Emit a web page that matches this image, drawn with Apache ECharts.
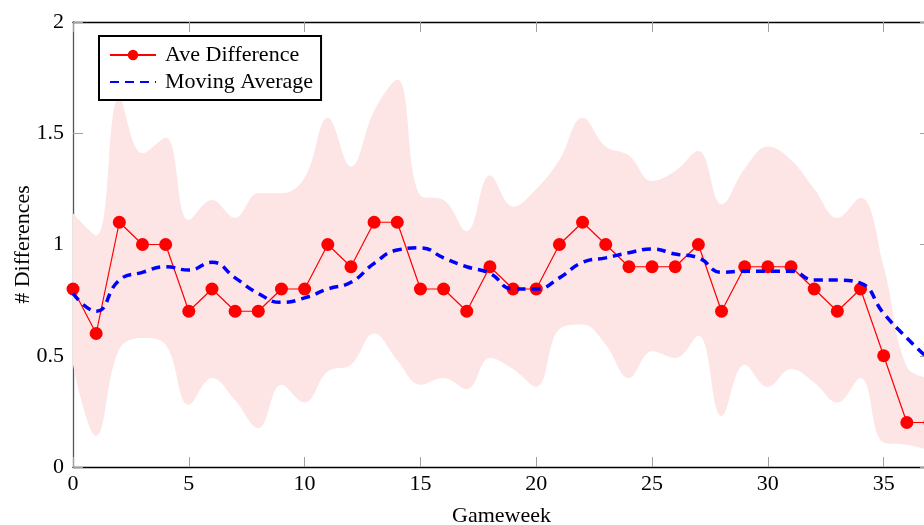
<!DOCTYPE html>
<html>
<head>
<meta charset="utf-8">
<script src="https://cdn.jsdelivr.net/npm/echarts@6/dist/echarts.min.js"></script>
<style>
  html, body { margin: 0; padding: 0; background: #ffffff; }
  #chart { width: 924px; height: 525px; }
</style>
</head>
<body>
<div id="chart"></div>
<script>
// Gameweeks 0..37
const gameweeks = [0, 1, 2, 3, 4, 5, 6, 7, 8, 9, 10, 11, 12, 13, 14, 15, 16, 17, 18, 19,
  20, 21, 22, 23, 24, 25, 26, 27, 28, 29, 30, 31, 32, 33, 34, 35, 36, 37];

// Average number of differences per gameweek
const aveDifference = [0.8, 0.6, 1.1, 1.0, 1.0, 0.7, 0.8, 0.7, 0.7, 0.8, 0.8, 1.0, 0.9, 1.1, 1.1,
  0.8, 0.8, 0.7, 0.9, 0.8, 0.8, 1.0, 1.1, 1.0, 0.9, 0.9, 0.9, 1.0, 0.7, 0.9, 0.9, 0.9, 0.8, 0.7,
  0.8, 0.5, 0.2, 0.2];

// Smoothed moving average
const movingAverage = [0.78, 0.70, 0.84, 0.875, 0.90, 0.885, 0.92, 0.85, 0.78, 0.74, 0.76, 0.80,
  0.83, 0.915, 0.975, 0.985, 0.94, 0.90, 0.87, 0.80, 0.80, 0.85, 0.92, 0.94, 0.963, 0.98, 0.957,
  0.94, 0.875, 0.88, 0.88, 0.88, 0.84, 0.84, 0.826, 0.69, 0.58, 0.48];

// Spread band around the average (upper / lower bounds)
const bandUpper = [1.14, 1.04, 1.66, 1.41, 1.48, 1.11, 1.20, 1.12, 1.23, 1.23, 1.30, 1.57, 1.35,
  1.60, 1.74, 1.22, 1.20, 1.06, 1.31, 1.17, 1.25, 1.38, 1.57, 1.44, 1.40, 1.285, 1.33, 1.42, 1.18,
  1.34, 1.44, 1.38, 1.25, 1.12, 1.21, 0.90, 0.45, 0.40];
const bandLower = [0.46, 0.14, 0.53, 0.58, 0.55, 0.28, 0.40, 0.30, 0.175, 0.37, 0.29, 0.43, 0.46,
  0.60, 0.48, 0.37, 0.40, 0.35, 0.49, 0.44, 0.36, 0.62, 0.64, 0.55, 0.40, 0.52, 0.49, 0.59, 0.23,
  0.46, 0.36, 0.44, 0.38, 0.29, 0.40, 0.11, 0.10, 0.075];

const FONT = '"Liberation Serif", "DejaVu Serif", serif';

const tickStyle = { show: true, inside: true, length: 10, lineStyle: { color: '#a0a0a0', width: 1 } };
const catTick = Object.assign({ interval: 4, alignWithLabel: true }, tickStyle);
const lineBlack = { show: true, onZero: false, lineStyle: { color: '#000', width: 1.3 } };

const chart = echarts.init(document.getElementById('chart'), null, { renderer: 'canvas' });

chart.setOption({
  animation: false,
  backgroundColor: '#ffffff',
  grid: { left: 73, right: -6, top: 22, bottom: 58, containLabel: false, outerBoundsMode: 'none' },
  legend: {
    data: [
      { name: 'Ave Difference' },
      // dashed line only, no marker
      { name: 'Moving Average', itemStyle: { color: 'rgba(0,0,0,0)', borderWidth: 0 } }
    ],
    orient: 'vertical',
    left: 99,
    top: 36,
    backgroundColor: '#ffffff',
    borderColor: '#000000',
    borderWidth: 2,
    borderRadius: 0,
    padding: [8, 8, 7, 10],
    itemGap: 5,
    itemWidth: 46,
    itemHeight: 13,
    textStyle: { fontFamily: FONT, fontSize: 22, color: '#000', padding: [0, 0, 0, 4] }
  },
  xAxis: [
    {
      type: 'category', data: gameweeks, boundaryGap: false, position: 'bottom',
      axisLine: lineBlack, axisTick: catTick, splitLine: { show: false },
      axisLabel: { interval: 4, fontFamily: FONT, fontSize: 22, color: '#000', margin: 6 },
      name: 'Gameweek', nameLocation: 'middle', nameGap: 38,
      nameTextStyle: { fontFamily: FONT, fontSize: 22, color: '#000' }
    },
    {
      type: 'category', data: gameweeks, boundaryGap: false, position: 'top',
      axisLine: lineBlack, axisTick: catTick, splitLine: { show: false },
      axisLabel: { show: false }
    }
  ],
  yAxis: [
    {
      type: 'value', position: 'left', min: 0, max: 2, interval: 0.5,
      axisLine: { show: true, onZero: false, lineStyle: { color: '#555', width: 1.3 } },
      axisTick: tickStyle, splitLine: { show: false },
      axisLabel: { fontFamily: FONT, fontSize: 22, color: '#000', margin: 9 },
      name: '# Differences', nameLocation: 'middle', nameGap: 39, nameRotate: 90,
      nameMoveOverlap: false,
      nameTextStyle: { fontFamily: FONT, fontSize: 22, color: '#000' }
    },
    {
      type: 'value', position: 'right', min: 0, max: 2, interval: 0.5,
      axisLine: lineBlack, axisTick: tickStyle, splitLine: { show: false },
      axisLabel: { show: false }
    }
  ],
  series: [
    {
      name: 'bandBase', type: 'line', stack: 'band', smooth: 0.4, symbol: 'none', silent: true,
      data: bandLower,
      lineStyle: { opacity: 0 }, z: 1
    },
    {
      name: 'bandSpan', type: 'line', stack: 'band', smooth: 0.4, symbol: 'none', silent: true,
      data: bandUpper.map((u, i) => u - bandLower[i]),
      lineStyle: { opacity: 0 },
      areaStyle: { color: 'rgb(253,228,229)', opacity: 1 }, z: 1
    },
    {
      name: 'Ave Difference', type: 'line', data: aveDifference,
      symbol: 'circle', symbolSize: 13, showSymbol: true,
      itemStyle: { color: '#ff0000' },
      lineStyle: { color: '#ff0000', width: 1.2 }, z: 3
    },
    {
      name: 'Moving Average', type: 'line', data: movingAverage,
      smooth: 0.5, symbol: 'none',
      itemStyle: { color: '#0000ff' },
      lineStyle: { color: '#0000ff', width: 3.5, type: [9, 6] }, z: 4
    }
  ]
});
</script>
</body>
</html>
